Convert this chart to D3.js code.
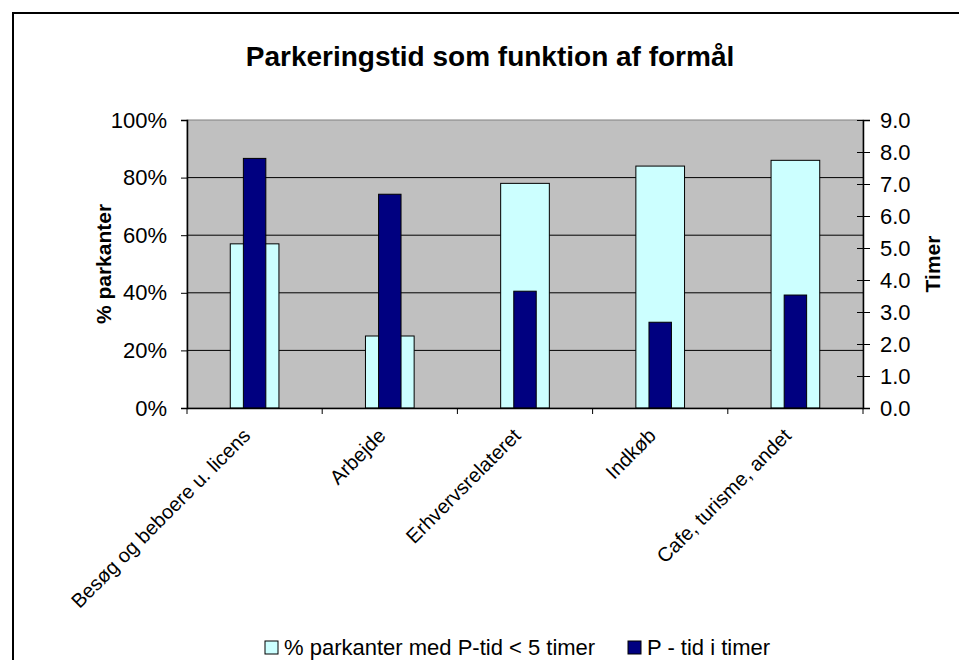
<!DOCTYPE html>
<html>
<head>
<meta charset="utf-8">
<script src="https://cdn.jsdelivr.net/npm/d3@7"></script>
<style>
  body { margin: 0; background: #fff; }
  text { font-family: Arial, "Liberation Sans", sans-serif; }
</style>
</head>
<body>
<div id="chart"></div>
<script>
// data
var categories = ["Besøg og beboere u. licens", "Arbejde", "Erhvervsrelateret", "Indkøb", "Cafe, turisme, andet"];
var pctShort = [0.57, 0.25, 0.78, 0.84, 0.86];   // % parkanter med P-tid < 5 timer
var hours = [7.8, 6.68, 3.65, 2.68, 3.53];        // P - tid i timer
var leftTicks = [0, 0.2, 0.4, 0.6, 0.8, 1.0];
var rightTicks = [0, 1, 2, 3, 4, 5, 6, 7, 8, 9];
var seriesNames = ["% parkanter med P-tid < 5 timer", "P - tid i timer"];

var W = 959, H = 660;
var m = {left: 187, right: 863, top: 120, bottom: 408};

var svg = d3.select("#chart").append("svg")
    .attr("width", W).attr("height", H);

// outer border
svg.append("rect")
    .attr("x", 13).attr("y", 13)
    .attr("width", W).attr("height", H)
    .attr("fill", "none").attr("stroke", "#000").attr("stroke-width", 2);

var x = d3.scaleBand().domain(categories).range([m.left, m.right]);
var yL = d3.scaleLinear().domain([0, 1]).range([m.bottom, m.top]);
var yR = d3.scaleLinear().domain([0, 9]).range([m.bottom, m.top]);

// plot area
svg.append("rect")
    .attr("x", m.left).attr("y", m.top)
    .attr("width", m.right - m.left).attr("height", m.bottom - m.top)
    .attr("fill", "#c0c0c0").attr("stroke", "#808080");

// gridlines
svg.append("g").selectAll("line")
    .data(leftTicks.slice(1, -1))
    .enter().append("line")
    .attr("x1", m.left).attr("x2", m.right)
    .attr("y1", function(d) { return yL(d); })
    .attr("y2", function(d) { return yL(d); })
    .attr("stroke", "#000").attr("stroke-width", 1);

// bars
var wide = x.bandwidth() * 0.36, narrow = x.bandwidth() * 0.166;
svg.append("g").selectAll("rect")
    .data(pctShort)
    .enter().append("rect")
    .attr("x", function(d, i) { return x(categories[i]) + (x.bandwidth() - wide) / 2; })
    .attr("y", function(d) { return yL(d); })
    .attr("width", wide)
    .attr("height", function(d) { return yL(0) - yL(d); })
    .attr("fill", "#ccffff").attr("stroke", "#000").attr("stroke-width", 1);

svg.append("g").selectAll("rect")
    .data(hours)
    .enter().append("rect")
    .attr("x", function(d, i) { return x(categories[i]) + (x.bandwidth() - narrow) / 2; })
    .attr("y", function(d) { return yR(d); })
    .attr("width", narrow)
    .attr("height", function(d) { return yR(0) - yR(d); })
    .attr("fill", "#000080").attr("stroke", "#000").attr("stroke-width", 1);

// left axis
var gL = svg.append("g").attr("transform", "translate(" + m.left + ",0)")
    .call(d3.axisLeft(yL).tickValues(leftTicks).tickFormat(d3.format(".0%")).tickSize(6).tickPadding(14));
// right axis, ticks cross the line
var gR = svg.append("g").attr("transform", "translate(" + m.right + ",0)")
    .call(d3.axisRight(yR).tickValues(rightTicks).tickFormat(d3.format(".1f")).tickSize(7).tickPadding(10));
gR.selectAll(".tick line").attr("x1", -6);
// bottom axis
var gB = svg.append("g").attr("transform", "translate(0," + m.bottom + ")")
    .call(d3.axisBottom(x).tickSize(0).tickFormat(""));
gB.selectAll(".tick").remove();
gB.selectAll("line.bound")
    .data(d3.range(categories.length + 1))
    .enter().append("line")
    .attr("x1", function(i) { return m.left + i * x.step(); })
    .attr("x2", function(i) { return m.left + i * x.step(); })
    .attr("y1", 0).attr("y2", 6)
    .attr("stroke", "#000");

[gL, gR, gB].forEach(function(g) {
    g.select(".domain").attr("stroke", "#000").attr("stroke-width", 1.5);
    g.selectAll(".tick line").attr("stroke", "#000");
    g.selectAll("text").attr("font-size", 22).attr("fill", "#000")
        .attr("font-family", "Arial, 'Liberation Sans', sans-serif");
});

// category labels, rotated
svg.append("g").selectAll("text")
    .data(categories)
    .enter().append("text")
    .attr("transform", function(d) {
        return "translate(" + (x(d) + x.bandwidth() / 2 - 3) + "," + 437 + ") rotate(-45)";
    })
    .attr("text-anchor", "end")
    .attr("font-size", 20)
    .text(function(d) { return d; });

// title
svg.append("text")
    .attr("x", 490).attr("y", 66)
    .attr("text-anchor", "middle")
    .attr("font-size", 28).attr("font-weight", "bold")
    .text("Parkeringstid som funktion af formål");

// axis titles
svg.append("text")
    .attr("transform", "translate(111,264) rotate(-90)")
    .attr("text-anchor", "middle")
    .attr("font-size", 21).attr("font-weight", "bold")
    .text("% parkanter");
svg.append("text")
    .attr("transform", "translate(940,264) rotate(-90)")
    .attr("text-anchor", "middle")
    .attr("font-size", 21).attr("font-weight", "bold")
    .text("Timer");

// legend
var legendX = [265, 628];
var legendFill = ["#ccffff", "#000080"];
var lg = svg.append("g").selectAll("g")
    .data(seriesNames)
    .enter().append("g")
    .attr("transform", function(d, i) { return "translate(" + legendX[i] + ",641)"; });
lg.append("rect")
    .attr("width", 13).attr("height", 13)
    .attr("fill", function(d, i) { return legendFill[i]; })
    .attr("stroke", "#000");
lg.append("text")
    .attr("x", 19).attr("y", 14)
    .attr("font-size", 22)
    .text(function(d) { return d; });
</script>
</body>
</html>
